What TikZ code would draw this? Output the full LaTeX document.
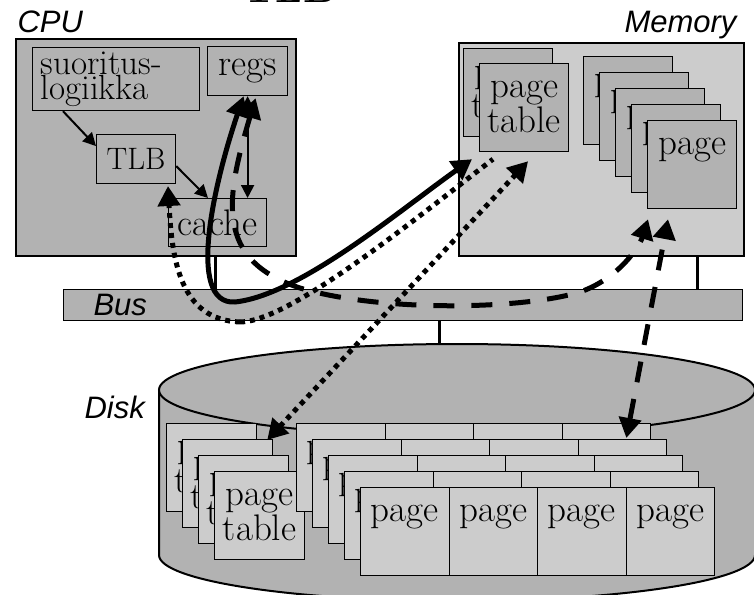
\documentclass[tikz,border=0pt]{standalone}
\usepackage{fontspec}
\usepackage{tikz}
\usetikzlibrary{arrows.meta}
\newfontfamily\lblfont{Liberation Sans}
\definecolor{darkfill}{gray}{0.7}
\definecolor{lightfill}{gray}{0.8}
\newcommand\boxfont{\fontsize{37}{35}\selectfont}

\begin{document}
\begin{tikzpicture}[x=1pt,y=-1pt,
    unit/.style={draw,line width=2pt,fill=darkfill,anchor=north west,inner sep=0pt},
    part/.style={draw,line width=1.2pt,fill=darkfill,anchor=north west,inner sep=0pt,font=\boxfont},
    sheet/.style={part,fill=#1,minimum width=89pt,minimum height=88pt,align=center},
    oneline/.style={text height=34pt,text depth=54pt},
    twoline/.style={text height=69pt,text depth=19pt},
    lbl/.style={font=\lblfont\itshape\fontsize{31}{31}\selectfont},
    link/.style={line width=2pt,>={Triangle[length=13pt,width=13pt]}},
    stream/.style={line width=5pt,>={Triangle[length=20pt,width=22pt]}},
    dash stream/.style={stream,dash pattern=on 21pt off 17pt},
    dot stream/.style={stream,dash pattern=on 5pt off 5pt}]
    \useasboundingbox (0,0) rectangle (754,594);
    \clip (0,0) rectangle (754,594);
    \node[anchor=base] (title) at (290,3) {\fontsize{41}{41}\selectfont\bfseries TLB};

    %CPU
    \node[unit,minimum width=280pt,minimum height=217pt] (cpu) at (15,38) {};
    \node[lbl,anchor=base west] (cpulbl) at (14,33) {CPU};
    \node[part,minimum width=167pt,minimum height=63pt,text width=151pt,inner xsep=8pt,
          align=left,font=\fontsize{35}{25}\selectfont] (suor) at (32,47) {suoritus-\\logiikka};
    \node[part,minimum width=80pt,minimum height=49pt] (regs) at (207,46) {regs};
    \node[part,minimum width=79pt,minimum height=49pt,font=\fontsize{31}{31}\selectfont] (tlb) at (96,134) {TLB};
    \node[part,minimum width=98pt,minimum height=48pt] (cache) at (168,198) {cache};

    %Memory
    \node[unit,fill=lightfill,minimum width=285pt,minimum height=213pt] (mem) at (458,42) {};
    \node[lbl,anchor=base east] (memlbl) at (740,33) {Memory};
    \node[sheet=darkfill,twoline] (mpt1) at (463,48) {page\\table};
    \node[sheet=darkfill,twoline] (mpt) at (479,63) {page\\table};
    \foreach \i in {1,...,5}
        \node[sheet=darkfill,oneline] (mp\i) at ({567+16*\i},{40+16*\i}) {page};

    %Bus
    \node[draw,line width=1pt,fill=darkfill,anchor=north west,inner sep=0pt,
          minimum width=679pt,minimum height=31pt] (bus) at (63,289) {};
    \node[lbl,anchor=base west] (buslbl) at (90,315) {Bus};
    \draw[line width=3pt] ([xshift=200pt]cpu.south west) -- ([xshift=200pt]cpu.south west |- bus.north);
    \draw[line width=3pt] ([xshift=-48pt]mem.south east) -- ([xshift=-48pt]mem.south east |- bus.north);

    %Disk
    \fill[darkfill] (159,390) -- (159,555) arc[start angle=180,end angle=0,x radius=298,y radius=46]
                    -- (755,390) -- cycle;
    \draw[line width=2pt] (159,390) -- (159,555) arc[start angle=180,end angle=0,x radius=298,y radius=46]
                          -- (755,390);
    \draw[line width=2pt,fill=darkfill] (457,390) ellipse [x radius=298,y radius=46];
    \draw[line width=3pt] ([xshift=36pt]bus.south) -- ++(0,24);
    \node[lbl,anchor=base west] (disklbl) at (81,418) {Disk};
    \foreach \i in {1,...,4}
        \node[sheet=lightfill,twoline,minimum width=90pt,minimum height=87pt] (dpt\i)
            at ({150+16*\i},{407+16*\i}) {page\\table};
    \foreach \r in {1,...,5}
        \foreach \c in {1,...,4}
            \node[sheet=lightfill,oneline,minimum width=88.5pt] (d-\r-\c)
                at ({280+16*\r+88.5*(\c-1)},{407+16*\r}) {page};

    %arrows inside CPU
    \draw[link,->] ([xshift=31pt]suor.south west) -- ([yshift=13pt]tlb.west);
    \draw[link,->] ([yshift=-7pt]tlb.east) -- ([xshift=40pt]cache.north west);
    \draw[link,<->] (regs.south) -- (regs.south |- cache.north);

    %traffic over the bus
    \draw[dot stream,->] (240,322) .. controls (180,320) and (172,260) .. ([yshift=12pt]cache.north west);
    \draw[dot stream] (240,322) .. controls (290,322) and (420,215) .. ([xshift=14pt,yshift=-7pt]mpt.south west);
    \draw[dot stream,<->] ([xshift=-6pt,yshift=-1pt]dpt2.north east) -- ([xshift=4pt,yshift=-9pt]mpt.south);
    \draw[stream,<->] ([xshift=-4pt]regs.south) .. controls (215,180) and (185,305) .. (235,302)
                      .. controls (300,295) and (400,210) .. ([xshift=-7pt,yshift=-7pt]mpt.south west);
    \draw[dash stream,<->] ([xshift=8pt,yshift=-2pt]regs.south) .. controls (225,200) and (215,260) .. (300,288)
                      .. controls (380,312) and (520,310) .. (580,292)
                      .. controls (620,278) and (640,245) .. ([xshift=1pt,yshift=-10pt]mp5.south west);
    \draw[dash stream,<->] ([xshift=4pt,yshift=1pt]d-2-4.north) -- ([xshift=21pt,yshift=-10pt]mp5.south west);
\end{tikzpicture}
\end{document}
